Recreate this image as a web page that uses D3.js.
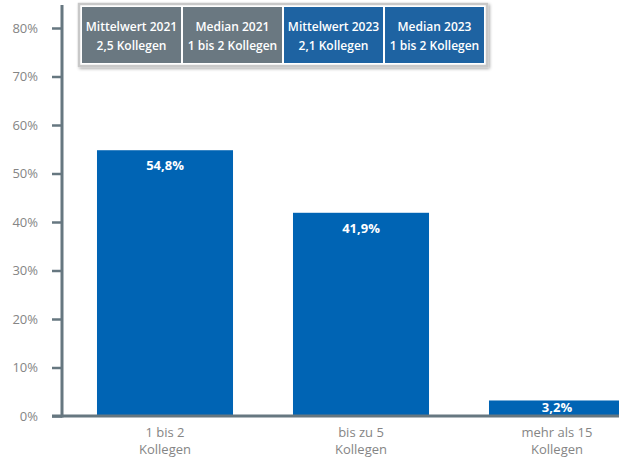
<!DOCTYPE html>
<html><head><meta charset="utf-8">
<script src="https://cdn.jsdelivr.net/npm/d3@7"></script>
<style>body{margin:0;background:#fff}svg{display:block}</style>
</head><body>
<svg id="c" width="619" height="458"></svg>
<script>
const categories = [["1 bis 2","Kollegen"],["bis zu 5","Kollegen"],["mehr als 15","Kollegen"]];
const values = [54.8, 41.9, 3.2];
const valueLabels = ["54,8%","41,9%","3,2%"];
const yTicks = [0,10,20,30,40,50,60,70,80];
const legendTitles = ["Mittelwert 2021","Median 2021","Mittelwert 2023","Median 2023"];
const legendValues = ["2,5 Kollegen","1 bis 2 Kollegen","2,1 Kollegen","1 bis 2 Kollegen"];
const legendYears = ["2021","2021","2023","2023"];

const svg = d3.select("#c");
const font = "'Open Sans', Lato, sans-serif";
const axisCol = "#667780";
const y = d3.scaleLinear().domain([0,80]).range([416,28]);
const x = d3.scaleBand().domain(d3.range(categories.length)).range([67,655]).paddingInner(0.306).paddingOuter(0.153);

const defs = svg.append("defs");
const f = defs.append("filter").attr("id","sh").attr("x","-10%").attr("y","-30%").attr("width","120%").attr("height","160%");
f.append("feDropShadow").attr("dx",1.5).attr("dy",1.5).attr("stdDeviation",1.5).attr("flood-color","#000").attr("flood-opacity",0.35);

// bars
svg.selectAll("rect.bar").data(values).join("rect").attr("class","bar")
  .attr("x",(d,i)=>x(i)).attr("width",x.bandwidth())
  .attr("y",d=>y(d)).attr("height",d=>y(0)-y(d)).attr("fill","#0064b4");
svg.selectAll("text.val").data(values).join("text").attr("class","val")
  .attr("x",(d,i)=>x(i)+x.bandwidth()/2).attr("y",d=> d>10 ? y(d)+20 : y(0)-4.5)
  .attr("text-anchor","middle").attr("fill","#fff").attr("font-family",font)
  .attr("font-weight","bold").attr("font-size",13).text((d,i)=>valueLabels[i]);

// y axis
const yAxis = d3.axisLeft(y).tickValues(yTicks).tickSize(10).tickPadding(14).tickFormat(d=>d+"%");
const ga = svg.append("g").attr("transform","translate(62,0)").call(yAxis);
ga.select(".domain").remove();
ga.selectAll(".tick line").attr("stroke",axisCol).attr("stroke-width",2.5);
ga.selectAll(".tick text").attr("fill","#858585").attr("font-family",font).attr("font-size",13);
svg.append("line").attr("x1",62).attr("x2",62).attr("y1",5).attr("y2",417.5).attr("stroke",axisCol).attr("stroke-width",3);
svg.append("line").attr("x1",52).attr("x2",619).attr("y1",y(0)).attr("y2",y(0)).attr("stroke",axisCol).attr("stroke-width",3);

// category labels
const cl = svg.selectAll("text.cat").data(categories).join("text").attr("class","cat")
  .attr("text-anchor","middle").attr("fill","#858585").attr("font-family",font).attr("font-size",13);
cl.each(function(d,i){
  const t=d3.select(this);
  d.forEach((s,k)=>t.append("tspan").attr("x",x(i)+x.bandwidth()/2).attr("y",437+k*17).text(s));
});

// legend
const lx = d3.scaleBand().domain(d3.range(4)).range([82,484]).paddingInner(0.02);
svg.append("rect").attr("x",79).attr("y",4).attr("width",408).attr("height",62)
  .attr("fill","#fff").attr("stroke","#c8c8c8").attr("stroke-width",2.5).attr("filter","url(#sh)");
svg.selectAll("rect.leg").data(legendTitles).join("rect").attr("class","leg")
  .attr("x",(d,i)=>lx(i)).attr("y",7).attr("width",lx.bandwidth()).attr("height",56)
  .attr("fill",(d,i)=>legendYears[i]==="2021"?"#6a7881":"#1e63a2");
svg.selectAll("text.lt").data(legendTitles).join("text").attr("class","lt")
  .attr("x",(d,i)=>lx(i)+lx.bandwidth()/2).attr("y",31).attr("text-anchor","middle")
  .attr("fill","#fff").attr("font-family",font).attr("font-size",12).attr("font-weight",600).text(d=>d);
svg.selectAll("text.lv").data(legendValues).join("text").attr("class","lv")
  .attr("x",(d,i)=>lx(i)+lx.bandwidth()/2).attr("y",50).attr("text-anchor","middle")
  .attr("fill","#fff").attr("font-family",font).attr("font-size",12).attr("font-weight",600).text(d=>d);
</script>
</body></html>
